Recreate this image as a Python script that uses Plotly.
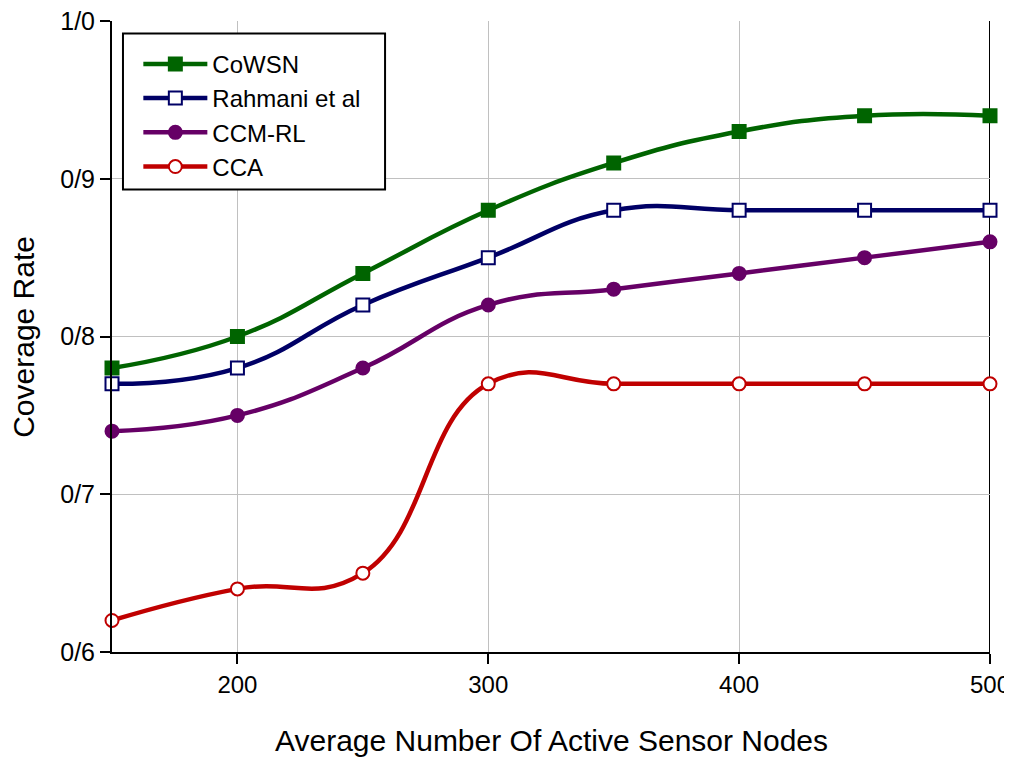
import plotly.graph_objects as go

x_nodes = [150, 200, 250, 300, 350, 400, 450, 500]
cowsn = [0.78, 0.80, 0.84, 0.88, 0.91, 0.93, 0.94, 0.94]
rahmani = [0.77, 0.78, 0.82, 0.85, 0.88, 0.88, 0.88, 0.88]
ccm_rl = [0.74, 0.75, 0.78, 0.82, 0.83, 0.84, 0.85, 0.86]
cca = [0.62, 0.64, 0.65, 0.77, 0.77, 0.77, 0.77, 0.77]

y_tickvals = [0.6, 0.7, 0.8, 0.9, 1.0]
y_ticktext = ["0/6", "0/7", "0/8", "0/9", "1/0"]
x_tickvals = [200, 300, 400, 500]

series = [
    ("CoWSN", cowsn, "#006400", "square", "#006400"),
    ("Rahmani et al", rahmani, "#000066", "square", "white"),
    ("CCM-RL", ccm_rl, "#660066", "circle", "#660066"),
    ("CCA", cca, "#C00000", "circle", "white"),
]

fig = go.Figure()
for name, ys, col, sym, fill in series:
    fig.add_trace(go.Scatter(
        x=x_nodes, y=ys, name=name, mode="lines+markers",
        line=dict(color=col, width=4.5, shape="spline", smoothing=1.3),
        marker=dict(symbol=sym, size=13, color=fill, line=dict(color=col, width=2)),
        cliponaxis=False,
    ))

font_family = "Liberation Sans, Arial, sans-serif"
fig.update_layout(
    width=1012, height=764,
    margin=dict(l=104, r=30, t=13, b=120),
    paper_bgcolor="white", plot_bgcolor="white",
    font=dict(family=font_family, color="black"),
    showlegend=True,
    legend=dict(
        x=0.03, y=0.967, xanchor="left", yanchor="top",
        bgcolor="rgba(0,0,0,0)", borderwidth=0,
        font=dict(size=24, family=font_family),
        itemwidth=64, tracegroupgap=1,
    ),
    xaxis=dict(
        range=[150, 500], tickvals=x_tickvals, automargin=False,
        showgrid=True, gridcolor="#c0c0c0", gridwidth=1,
        showline=True, linecolor="black", linewidth=2,
        ticks="outside", ticklen=10, tickwidth=2, tickcolor="black",
        tickfont=dict(size=24), zeroline=False, ticklabeloverflow="allow",
    ),
    yaxis=dict(
        range=[0.6, 1.0], tickvals=y_tickvals, ticktext=y_ticktext, automargin=False,
        showgrid=True, gridcolor="#c0c0c0", gridwidth=1,
        showline=True, linecolor="black", linewidth=2,
        ticks="outside", ticklen=10, tickwidth=2, tickcolor="black",
        tickfont=dict(size=25), zeroline=False, ticklabeloverflow="allow",
    ),
    annotations=[
        dict(text="Average Number Of Active Sensor Nodes", xref="paper", yref="paper",
             x=0.5, y=-0.14, xanchor="center", yanchor="middle", showarrow=False,
             font=dict(size=30)),
        dict(text="Coverage Rate", xref="paper", yref="paper", textangle=-90,
             x=-0.101, y=0.5, xanchor="center", yanchor="middle", showarrow=False,
             font=dict(size=30)),
    ],
    shapes=[
        dict(type="line", xref="x", yref="paper", x0=500, x1=500, y0=0, y1=1,
             line=dict(color="black", width=2), layer="below"),
        dict(type="rect", xref="paper", yref="paper", x0=0.0125, x1=0.311, y0=0.733, y1=0.98,
             fillcolor="white", line=dict(color="black", width=2), layer="above"),
    ],
)

fig.write_html("out.html")
